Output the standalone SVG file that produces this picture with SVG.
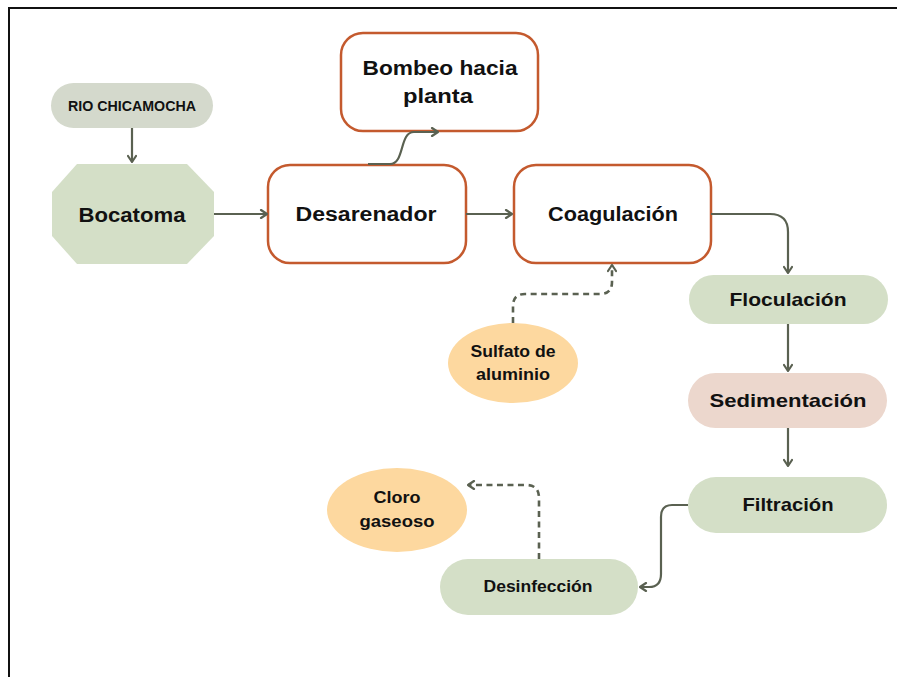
<svg xmlns="http://www.w3.org/2000/svg" width="897" height="677" viewBox="0 0 897 677">
<defs>
<style>
.t{font-family:"Liberation Sans",Arial,sans-serif;font-weight:bold;fill:#111;text-anchor:middle}
.ob{fill:#fff;stroke:#c45a2e;stroke-width:2.5}
.gr{fill:#d4dfc7}
.c{fill:none;stroke:#5a6151;stroke-width:2.2}
.d{stroke-dasharray:6 4.5;stroke-width:2.6}
</style>
<marker id="ah" viewBox="0 0 10 10" refX="9" refY="5" markerWidth="10" markerHeight="10" markerUnits="userSpaceOnUse" orient="auto">
<path d="M3,1 L9,5 L3,9" fill="none" stroke="#5a6151" stroke-width="2.2" stroke-linecap="round" stroke-linejoin="round"/>
</marker>
</defs>
<rect width="897" height="677" fill="#fff"/>
<g id="frame" fill="none" stroke="#111" stroke-width="2">
<path d="M9,677 V8 H897"/>
</g>
<g id="rio">
<rect x="51" y="83" width="162" height="45" rx="22.5" fill="#d4d9cc"/>
<text class="t" x="132" y="111" font-size="14" textLength="128" lengthAdjust="spacingAndGlyphs">RIO CHICAMOCHA</text>
</g>
<g id="bocatoma">
<polygon class="gr" points="77,164 187,164 214,192 214,236 187,264 77,264 52,236 52,192"/>
<text class="t" x="132" y="222" font-size="20" textLength="107" lengthAdjust="spacingAndGlyphs">Bocatoma</text>
</g>
<g id="desarenador">
<rect class="ob" x="268" y="165" width="198" height="98" rx="22"/>
<text class="t" x="366" y="221" font-size="20" textLength="141" lengthAdjust="spacingAndGlyphs">Desarenador</text>
</g>
<g id="bombeo">
<rect class="ob" x="341" y="33" width="197" height="98" rx="22"/>
<text class="t" x="440" y="75" font-size="20" textLength="155" lengthAdjust="spacingAndGlyphs">Bombeo hacia</text>
<text class="t" x="438" y="103" font-size="20" textLength="70" lengthAdjust="spacingAndGlyphs">planta</text>
</g>
<g id="coagulacion">
<rect class="ob" x="514" y="165" width="197" height="98" rx="22"/>
<text class="t" x="613" y="221" font-size="20" textLength="130" lengthAdjust="spacingAndGlyphs">Coagulación</text>
</g>
<g id="floculacion">
<rect class="gr" x="689" y="275" width="199" height="49" rx="24.5"/>
<text class="t" x="788" y="306" font-size="18.5" textLength="117" lengthAdjust="spacingAndGlyphs">Floculación</text>
</g>
<g id="sulfato">
<ellipse cx="513" cy="363" rx="65" ry="40" fill="#fdd89f"/>
<text class="t" x="513" y="357" font-size="16" textLength="85" lengthAdjust="spacingAndGlyphs">Sulfato de</text>
<text class="t" x="513" y="380" font-size="16" textLength="74" lengthAdjust="spacingAndGlyphs">aluminio</text>
</g>
<g id="sedimentacion">
<rect x="688" y="373" width="199" height="55" rx="27.5" fill="#ecd7cd"/>
<text class="t" x="788" y="407" font-size="19" textLength="157" lengthAdjust="spacingAndGlyphs">Sedimentación</text>
</g>
<g id="filtracion">
<rect class="gr" x="688" y="477" width="199" height="56" rx="28"/>
<text class="t" x="788" y="511" font-size="19" textLength="91" lengthAdjust="spacingAndGlyphs">Filtración</text>
</g>
<g id="desinfeccion">
<rect class="gr" x="440" y="559" width="198" height="56" rx="28"/>
<text class="t" x="538" y="592" font-size="16" textLength="109" lengthAdjust="spacingAndGlyphs">Desinfección</text>
</g>
<g id="cloro">
<ellipse cx="397" cy="510" rx="70" ry="42" fill="#fdd89f"/>
<text class="t" x="397" y="503" font-size="17" textLength="47" lengthAdjust="spacingAndGlyphs">Cloro</text>
<text class="t" x="397" y="527" font-size="17" textLength="75" lengthAdjust="spacingAndGlyphs">gaseoso</text>
</g>
<g id="connectors">
<path class="c" d="M132,128 V162" marker-end="url(#ah)"/>
<path class="c" d="M214,214 H267" marker-end="url(#ah)"/>
<path class="c" d="M368,164 H390 C405,164 399,132 414,132 H438" marker-end="url(#ah)"/>
<path class="c" d="M466,214 H512" marker-end="url(#ah)"/>
<path class="c" d="M711,214 H770 Q788,214 788,232 V273" marker-end="url(#ah)"/>
<path class="c" d="M788,324 V371" marker-end="url(#ah)"/>
<path class="c" d="M788,428 V466" marker-end="url(#ah)"/>
<path class="c" d="M688,505 H672 Q661,505 661,517 V574 Q661,587 649,587 H640" marker-end="url(#ah)"/>
<path class="c d" d="M513,323 V306 Q513,294 525,294 H600 Q612,294 612,282 V265" marker-end="url(#ah)"/>
<path class="c d" d="M539,559 V498 Q539,485 526,485 H468" marker-end="url(#ah)"/>
</g>
</svg>
